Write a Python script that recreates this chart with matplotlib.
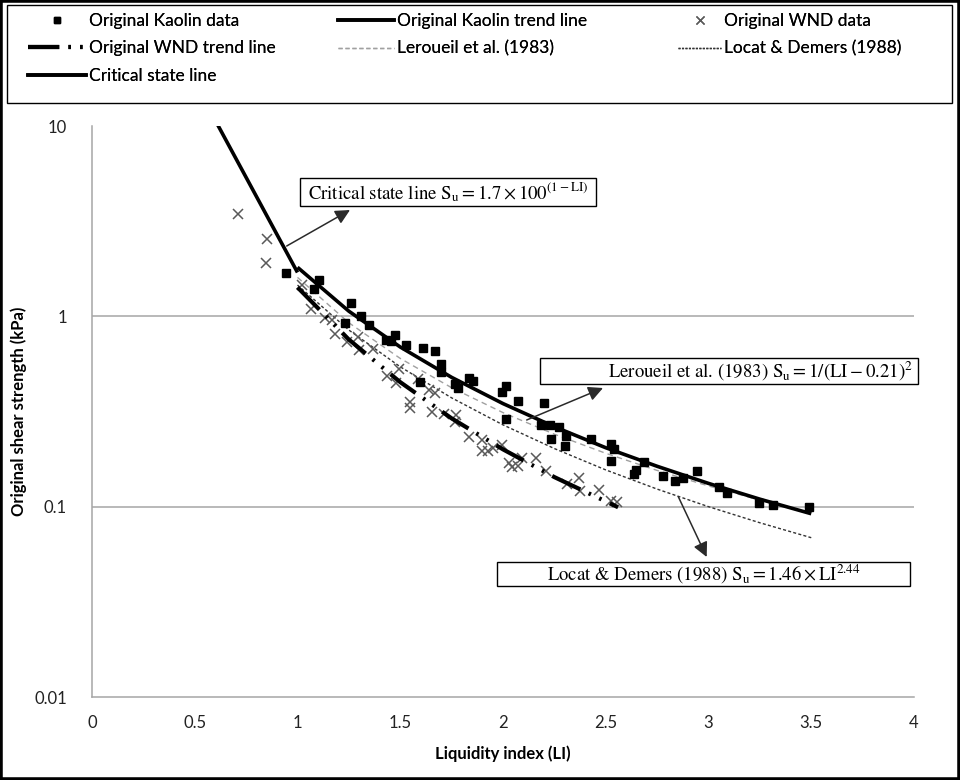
import matplotlib
matplotlib.use('Agg')
import matplotlib.pyplot as plt
from matplotlib.lines import Line2D
from matplotlib.patches import Rectangle
import matplotlib.ticker as mticker

plt.rcParams['font.family'] = ['Lato', 'DejaVu Sans']
plt.rcParams['mathtext.fontset'] = 'stix'

# ---------------- data ----------------
kaolin_li = [0.945, 1.103, 1.078, 1.261, 1.309, 1.233, 1.346, 1.431, 1.454, 1.476,
             1.528, 1.612, 1.667, 1.699, 1.700, 1.595, 1.768, 1.783, 1.833, 1.854,
             2.013, 1.997, 2.074, 2.013, 2.201, 2.184, 2.228, 2.272, 2.234, 2.307,
             2.304, 2.426, 2.525, 2.541, 2.526, 2.684, 2.647, 2.636, 2.778, 2.838,
             2.875, 2.943, 3.049, 3.092, 3.246, 3.312, 3.489]
kaolin_su = [1.69, 1.55, 1.40, 1.17, 1.00, 0.92, 0.90, 0.75, 0.74, 0.795,
             0.71, 0.68, 0.66, 0.565, 0.51, 0.45, 0.44, 0.42, 0.476, 0.46,
             0.43, 0.40, 0.36, 0.288, 0.35, 0.27, 0.27, 0.263, 0.228, 0.236,
             0.208, 0.228, 0.214, 0.20, 0.174, 0.172, 0.156, 0.148, 0.145, 0.136,
             0.142, 0.154, 0.127, 0.118, 0.104, 0.102, 0.100]

wnd_li = [0.710, 0.853, 0.848, 1.024, 1.068, 1.136, 1.167, 1.184, 1.243, 1.296,
          1.301, 1.369, 1.437, 1.478, 1.493, 1.587, 1.641, 1.667, 1.549, 1.549,
          1.653, 1.711, 1.772, 1.765, 1.835, 1.898, 1.897, 1.929, 1.951, 1.995,
          2.029, 2.044, 2.073, 2.091, 2.160, 2.207, 2.311, 2.369, 2.374, 2.468,
          2.527, 2.553]
wnd_su = [3.44, 2.56, 1.91, 1.46, 1.095, 0.98, 0.96, 0.81, 0.73, 0.78,
          0.667, 0.674, 0.485, 0.445, 0.53, 0.47, 0.408, 0.395, 0.354, 0.328,
          0.316, 0.305, 0.303, 0.28, 0.231, 0.225, 0.197, 0.195, 0.2025, 0.2115,
          0.1705, 0.1625, 0.1634, 0.1794, 0.1794, 0.154, 0.131, 0.142, 0.1216, 0.123,
          0.107, 0.106]

kaolin_trend_li = [1.0, 1.25, 1.5, 1.75, 2.0, 2.25, 2.5, 2.75, 3.0, 3.25, 3.5]
kaolin_trend_su = [1.81, 1.064, 0.690, 0.478, 0.348, 0.263, 0.204, 0.163, 0.1325, 0.1095, 0.0918]

wnd_trend_li = [1.0, 1.25, 1.5, 1.75, 2.0, 2.25, 2.56]
wnd_trend_su = [1.42, 0.755, 0.451, 0.291, 0.200, 0.143, 0.0993]

leroueil_li = [1.0, 1.25, 1.5, 1.75, 2.0, 2.25, 2.5, 2.75, 3.0, 3.25, 3.5]
leroueil_su = [1.602, 0.925, 0.601, 0.4217, 0.312, 0.2403, 0.1907, 0.155, 0.1285, 0.1082, 0.0924]

locat_li = [1.0, 1.25, 1.5, 1.75, 2.0, 2.25, 2.5, 2.75, 3.0, 3.25, 3.5]
locat_su = [1.46, 0.847, 0.543, 0.373, 0.269, 0.202, 0.156, 0.1237, 0.100, 0.0823, 0.0687]

critical_li = [0.6, 1.0]
critical_su = [10.7, 1.7]

x_ticks = [0, 0.5, 1, 1.5, 2, 2.5, 3, 3.5, 4]
x_tick_labels = ['0', '0.5', '1', '1.5', '2', '2.5', '3', '3.5', '4']
y_ticks = [0.01, 0.1, 1, 10]
y_tick_labels = ['0.01', '0.1', '1', '10']

legend_col1 = ['Original Kaolin data', 'Original WND trend line', 'Critical state line']
legend_col2 = ['Original Kaolin trend line', 'Leroueil et al. (1983)']
legend_col3 = ['Original WND data', 'Locat & Demers (1988)']

# ---------------- figure ----------------
W, H = 960, 780
fig = plt.figure(figsize=(9.6, 7.8), dpi=100)
AX_L, AX_R, AX_T, AX_B = 92, 914, 126, 697
ax = fig.add_axes([AX_L / W, 1 - AX_B / H, (AX_R - AX_L) / W, (AX_B - AX_T) / H])


def fx(px):
    return (px - AX_L) / (AX_R - AX_L)


def fy(py):
    return (AX_B - py) / (AX_B - AX_T)


ax.set_yscale('log')
ax.set_xlim(0, 4)
ax.set_ylim(0.01, 10)
ax.set_xticks(x_ticks)
ax.set_xticklabels(x_tick_labels)
ax.set_yticks(y_ticks)
ax.set_yticklabels(y_tick_labels)
ax.yaxis.set_minor_locator(mticker.NullLocator())
ax.tick_params(axis='both', length=0, labelsize=12, colors='#222222')
ax.tick_params(axis='x', pad=13)
ax.tick_params(axis='y', pad=18)

grid_col = '#a6a6a6'
for v in y_ticks[1:3]:
    ax.axhline(v, color=grid_col, lw=1.1, zorder=0)
for s in ['top', 'right']:
    ax.spines[s].set_visible(False)
for s in ['left', 'bottom']:
    ax.spines[s].set_color(grid_col)
    ax.spines[s].set_linewidth(1.1)

# series
wnd_dash = (0, (7.5, 2.2, 0.6, 2.2, 0.6, 2.2))
ax.plot(leroueil_li, leroueil_su, color='#a0a0a0', lw=1.0, ls=(0, (4, 3)), zorder=2)
ax.plot(locat_li, locat_su, color='#333333', lw=1.0, ls=(0, (2.2, 1.6)), zorder=2)
ax.plot(wnd_li, wnd_su, ls='none', marker='x', ms=7.5, mew=1.1, color='#595959', zorder=3)
ax.plot(kaolin_li, kaolin_su, ls='none', marker='s', ms=6, color='black', zorder=3)
ax.plot(wnd_trend_li, wnd_trend_su, color='black', lw=3, ls=wnd_dash, zorder=4)
ax.plot(kaolin_trend_li, kaolin_trend_su, color='black', lw=2.6, zorder=4, solid_capstyle='butt')
ax.plot(critical_li, critical_su, color='black', lw=2.6, zorder=4, solid_capstyle='butt')

# annotations
arrow_kw = dict(arrowstyle='-|>', color='#2a2a2a', lw=1.1, mutation_scale=22,
                shrinkA=0, shrinkB=0)
ax.annotate('', xy=(fx(350), fy(210)), xytext=(fx(286.7), fy(246)),
            xycoords='axes fraction', textcoords='axes fraction', arrowprops=arrow_kw, zorder=5)
ax.annotate('', xy=(fx(603), fy(388)), xytext=(fx(526.7), fy(420)),
            xycoords='axes fraction', textcoords='axes fraction', arrowprops=arrow_kw, zorder=5)
ax.annotate('', xy=(fx(706.7), fy(557)), xytext=(fx(678.3), fy(496.7)),
            xycoords='axes fraction', textcoords='axes fraction', arrowprops=arrow_kw, zorder=5)


def box(x0, y0, x1, y1):
    r = Rectangle((fx(x0), fy(y1)), fx(x1) - fx(x0), fy(y0) - fy(y1), transform=ax.transAxes,
                  fc='white', ec='black', lw=1.0, clip_on=False, zorder=6)
    ax.add_patch(r)


serif = 'STIXGeneral'
box(300, 178, 596, 206)
ax.text(fx(448), fy(192), r'Critical state line $\mathrm{S_u = 1.7 \times 100^{(1-LI)}}$',
        transform=ax.transAxes, ha='center', va='center', fontsize=13.5, family=serif, zorder=7)
box(540, 358, 918, 384)
ax.text(fx(913), fy(371), r'Leroueil et al. (1983) $\mathrm{S_u = 1/(LI - 0.21)^2}$',
        transform=ax.transAxes, ha='right', va='center', fontsize=13.5, family=serif, zorder=7)
box(497, 562, 910, 586)
ax.text(fx(704), fy(574), r'Locat & Demers (1988) $\mathrm{S_u = 1.46 \times LI^{2.44}}$',
        transform=ax.transAxes, ha='center', va='center', fontsize=13.5, family=serif, zorder=7)

# axis labels
ax.set_xlabel('Liquidity index (LI)', fontsize=12, fontweight='bold')
ax.xaxis.set_label_coords(0.5, fy(745))
ax.set_ylabel('Original shear strength (kPa)', fontsize=12, fontweight='bold')
ax.yaxis.set_label_coords(fx(27), 0.5)

# legend (three columns laid out like the reference, inside one frame)
h_kd = Line2D([], [], ls='none', marker='s', ms=5, color='black')
h_wt = Line2D([], [], color='black', lw=3, ls=wnd_dash)
h_cs = Line2D([], [], color='black', lw=2.6)
h_kt = Line2D([], [], color='black', lw=2.6)
h_le = Line2D([], [], color='#a0a0a0', lw=1.0, ls=(0, (3, 2)))
h_wd = Line2D([], [], ls='none', marker='x', ms=6, mew=1.0, color='#595959')
h_lo = Line2D([], [], color='#333333', lw=1.0, ls=(0, (1.5, 1)))

leg_kw = dict(loc='upper left', fontsize=12.5, frameon=False, handletextpad=0.15,
              labelspacing=0.66, borderaxespad=0, borderpad=0)
fs_px = 12.5 * 100 / 72
cols = [([h_kd, h_wt, h_cs], legend_col1, 28, 58),
        ([h_kt, h_le], legend_col2, 338, 56),
        ([h_wd, h_lo], legend_col3, 678, 43)]
for hs, labs, x0, hl in cols:
    lg = fig.legend(hs, labs, bbox_to_anchor=(x0 / W, 1 - 13 / H), handlelength=hl / fs_px,
                    **leg_kw)
    fig.add_artist(lg)

fig.add_artist(Rectangle((7 / W, 1 - 103 / H), 945 / W, 98 / H, transform=fig.transFigure,
                         fill=False, ec='black', lw=1.0))

# outer border
fig.add_artist(Rectangle((0, 0), 1, 1, transform=fig.transFigure, fill=False,
                         ec='black', lw=4))

fig.savefig('out.png', dpi=100)
